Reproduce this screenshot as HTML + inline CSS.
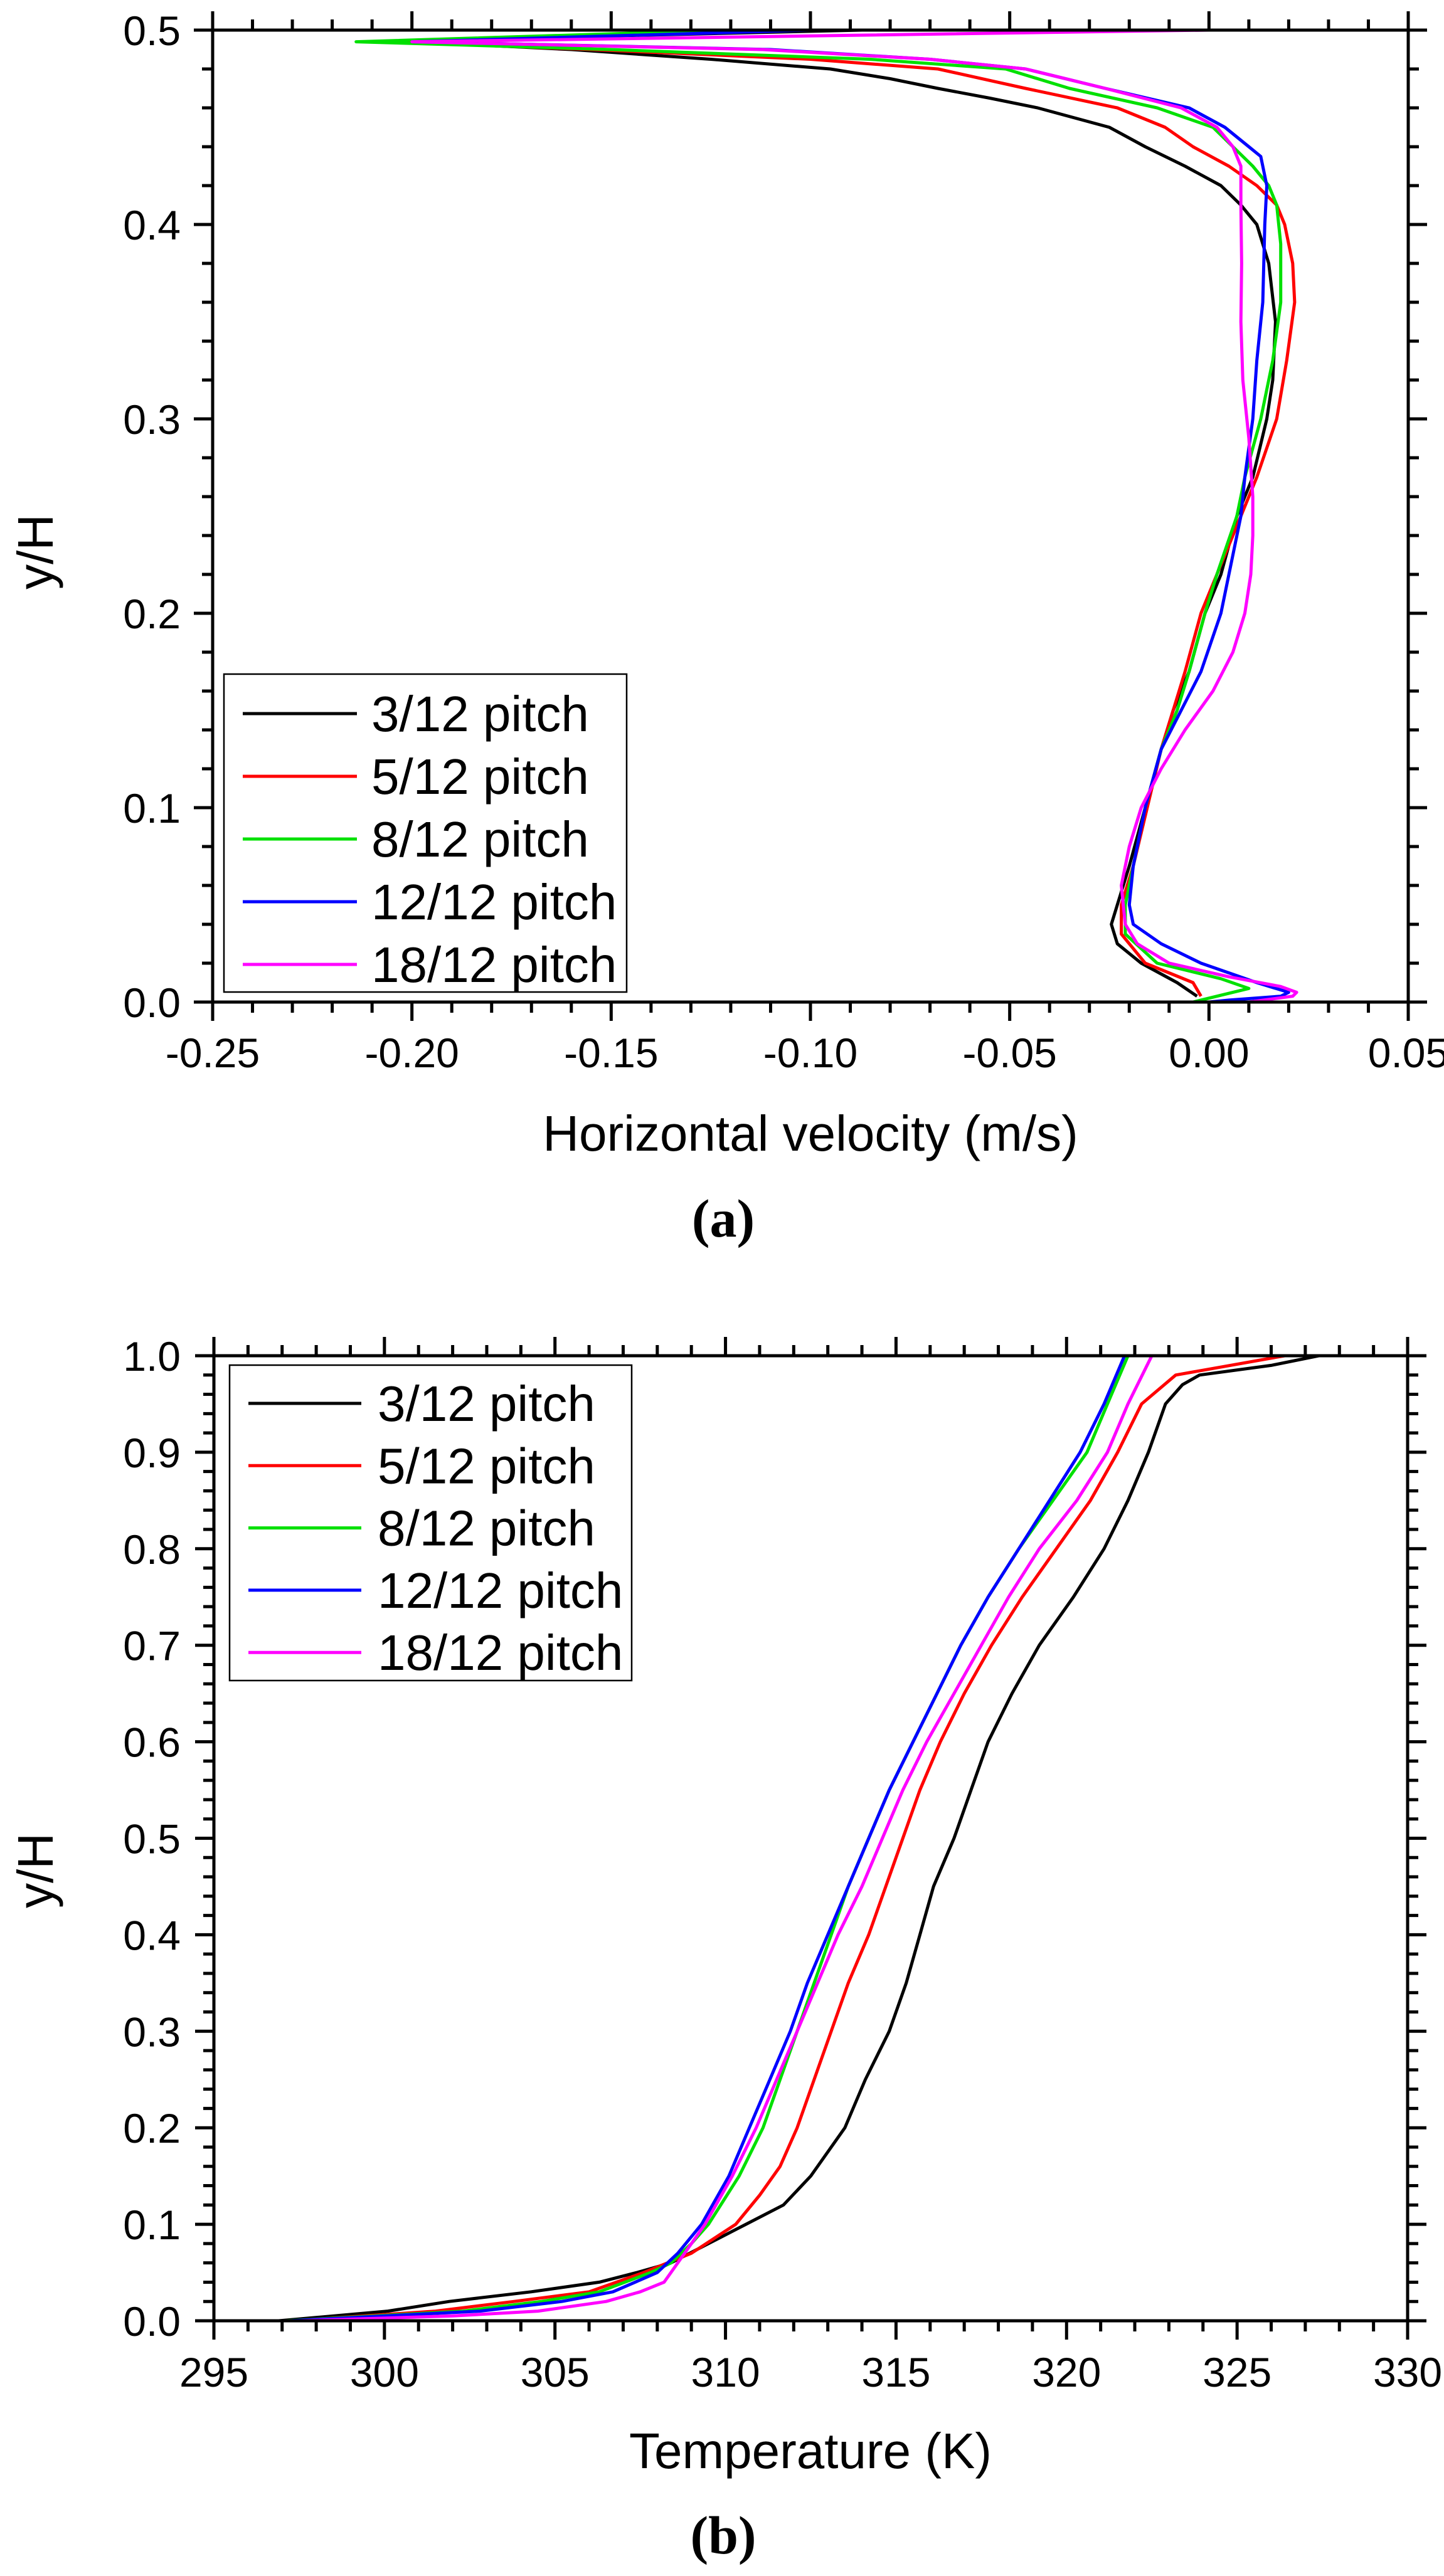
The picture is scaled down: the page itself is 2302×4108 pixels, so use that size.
<!DOCTYPE html>
<html><head><meta charset="utf-8"><style>
html,body{margin:0;padding:0;background:#fff}
svg{display:block}
text{font-family:"Liberation Sans",Arial,sans-serif;fill:#000}
</style></head><body>
<svg id="fig" width="2302" height="4108" viewBox="0 0 2302 4108" xmlns="http://www.w3.org/2000/svg">
<rect width="2302" height="4108" fill="#fff"/>
<g id="chartA"></g>
<g id="chartB"></g>
</svg>
<script>
// ---------- Data: chart (a) velocity profiles: [y/H] and [velocity m/s] ----------
const seriesNames = ["3/12 pitch","5/12 pitch","8/12 pitch","12/12 pitch","18/12 pitch"];
const seriesColors = ["#000000","#ff0000","#00e000","#0000ff","#ff00ff"];

const velY_black = [0.5,0.497,0.494,0.49,0.485,0.48,0.475,0.47,0.465,0.46,0.45,0.44,0.43,0.42,0.41,0.40,0.38,0.35,0.32,0.30,0.27,0.25,0.22,0.20,0.17,0.15,0.13,0.10,0.07,0.05,0.04,0.03,0.02,0.01,0.003];
const velX_black = [-0.087,-0.15,-0.2,-0.16,-0.125,-0.095,-0.08,-0.068,-0.055,-0.043,-0.025,-0.016,-0.006,0.003,0.008,0.012,0.015,0.0167,0.016,0.0145,0.011,0.007,0.003,-0.001,-0.005,-0.009,-0.012,-0.016,-0.02,-0.023,-0.0245,-0.023,-0.017,-0.008,-0.003];

const velY_red = [0.5,0.494,0.49,0.485,0.48,0.47,0.46,0.45,0.44,0.43,0.42,0.41,0.40,0.38,0.36,0.33,0.30,0.27,0.25,0.22,0.20,0.17,0.15,0.13,0.10,0.07,0.05,0.035,0.02,0.01,0.003];
const velX_red = [-0.11,-0.205,-0.155,-0.1,-0.068,-0.046,-0.023,-0.011,-0.004,0.005,0.012,0.017,0.019,0.021,0.0215,0.0195,0.017,0.012,0.008,0.002,-0.002,-0.006,-0.009,-0.012,-0.0155,-0.019,-0.022,-0.022,-0.016,-0.004,-0.002];

const velY_green = [0.5,0.494,0.49,0.485,0.48,0.47,0.46,0.45,0.44,0.43,0.42,0.41,0.39,0.36,0.33,0.30,0.27,0.25,0.22,0.20,0.17,0.15,0.13,0.10,0.07,0.05,0.035,0.02,0.012,0.007,0.003,0.0];
const velX_green = [-0.12,-0.214,-0.15,-0.085,-0.051,-0.035,-0.013,0.001,0.006,0.011,0.015,0.017,0.018,0.018,0.016,0.013,0.009,0.007,0.002,-0.001,-0.005,-0.008,-0.012,-0.016,-0.019,-0.021,-0.021,-0.013,0.003,0.01,0.002,-0.004];

const velY_blue = [0.5,0.494,0.49,0.485,0.48,0.47,0.46,0.45,0.44,0.435,0.42,0.40,0.36,0.33,0.30,0.27,0.25,0.22,0.20,0.17,0.15,0.13,0.10,0.07,0.05,0.04,0.03,0.02,0.01,0.005,0.003,0.001,0.0];
const velX_blue = [-0.1,-0.2,-0.11,-0.07,-0.046,-0.026,-0.005,0.004,0.01,0.013,0.0145,0.014,0.0135,0.012,0.011,0.009,0.008,0.005,0.003,-0.002,-0.007,-0.012,-0.016,-0.019,-0.02,-0.019,-0.012,-0.002,0.012,0.02,0.018,0.005,0.0];

const velY_magenta = [0.5,0.497,0.494,0.49,0.485,0.48,0.47,0.46,0.45,0.44,0.43,0.41,0.38,0.35,0.32,0.29,0.26,0.24,0.22,0.20,0.18,0.16,0.14,0.12,0.10,0.08,0.06,0.04,0.03,0.02,0.013,0.008,0.005,0.003,0.0];
const velX_magenta = [0.0,-0.1,-0.2,-0.112,-0.07,-0.046,-0.026,-0.007,0.002,0.006,0.008,0.008,0.0082,0.008,0.0085,0.01,0.011,0.011,0.0105,0.009,0.006,0.001,-0.006,-0.012,-0.017,-0.02,-0.022,-0.021,-0.018,-0.01,0.005,0.018,0.022,0.021,0.01];

const velXTicks = [-0.25,-0.20,-0.15,-0.10,-0.05,0.00,0.05];
const velXTickLabels = ["-0.25","-0.20","-0.15","-0.10","-0.05","0.00","0.05"];
const velYTicks = [0.0,0.1,0.2,0.3,0.4,0.5];
const velYTickLabels = ["0.0","0.1","0.2","0.3","0.4","0.5"];

// ---------- Data: chart (b) temperature profiles: [y/H] and [temperature K] ----------
const tempY_black = [0,0.01,0.02,0.03,0.04,0.05,0.06,0.08,0.10,0.12,0.15,0.20,0.25,0.30,0.35,0.40,0.45,0.50,0.55,0.60,0.65,0.70,0.75,0.80,0.85,0.90,0.95,0.97,0.98,0.99,1.0];
const tempX_black = [296.9,300.1,301.9,304.3,306.3,307.4,308.4,309.5,310.6,311.7,312.5,313.5,314.1,314.8,315.3,315.7,316.1,316.7,317.2,317.7,318.4,319.2,320.2,321.1,321.8,322.4,322.9,323.4,323.9,326.0,327.4];

const tempY_red = [0,0.01,0.02,0.03,0.05,0.07,0.10,0.13,0.16,0.20,0.25,0.30,0.35,0.40,0.45,0.50,0.55,0.60,0.65,0.70,0.75,0.80,0.85,0.90,0.95,0.98,0.99,1.0];
const tempX_red = [297.3,301.5,303.8,306.0,307.6,309.0,310.3,311.0,311.6,312.1,312.6,313.1,313.6,314.2,314.7,315.2,315.7,316.3,317.0,317.8,318.7,319.7,320.7,321.5,322.2,323.2,324.8,326.4];

const tempY_green = [0,0.01,0.02,0.03,0.05,0.06,0.08,0.10,0.15,0.20,0.25,0.30,0.35,0.40,0.45,0.50,0.55,0.60,0.65,0.70,0.75,0.80,0.85,0.90,0.95,1.0];
const tempX_green = [297.1,302.3,304.6,306.3,307.8,308.4,309.0,309.5,310.4,311.1,311.6,312.1,312.6,313.1,313.6,314.2,314.8,315.5,316.2,316.9,317.7,318.6,319.6,320.6,321.2,321.8];

const tempY_blue = [0,0.01,0.02,0.03,0.05,0.07,0.10,0.15,0.20,0.25,0.30,0.35,0.40,0.45,0.50,0.55,0.60,0.65,0.70,0.75,0.80,0.85,0.90,0.95,1.0];
const tempX_blue = [297.2,302.8,305.2,306.7,308.0,308.6,309.3,310.1,310.7,311.3,311.9,312.4,313.0,313.6,314.2,314.8,315.5,316.2,316.9,317.7,318.6,319.5,320.4,321.1,321.7];

const tempY_magenta = [0,0.005,0.01,0.02,0.03,0.04,0.06,0.08,0.10,0.15,0.20,0.25,0.30,0.35,0.40,0.45,0.50,0.55,0.60,0.65,0.70,0.75,0.80,0.85,0.90,0.95,1.0];
const tempX_magenta = [297.5,302.0,304.5,306.5,307.5,308.2,308.6,309.0,309.4,310.2,310.9,311.5,312.1,312.7,313.3,314.0,314.6,315.2,315.9,316.7,317.5,318.3,319.2,320.3,321.2,321.8,322.5];

const tempXTicks = [295,300,305,310,315,320,325,330];
const tempXTickLabels = ["295","300","305","310","315","320","325","330"];
const tempYTicks = [0.0,0.1,0.2,0.3,0.4,0.5,0.6,0.7,0.8,0.9,1.0];
const tempYTickLabels = ["0.0","0.1","0.2","0.3","0.4","0.5","0.6","0.7","0.8","0.9","1.0"];

const NS = "http://www.w3.org/2000/svg";
function mk(tag, attrs, parent){
  const e = document.createElementNS(NS, tag);
  for (const k in attrs) e.setAttribute(k, attrs[k]);
  parent.appendChild(e);
  return e;
}

function drawChart(cfg){
  const g = document.getElementById(cfg.id);
  const sx = v => cfg.L + (v - cfg.xmin) / (cfg.xmax - cfg.xmin) * (cfg.R - cfg.L);
  const sy = v => cfg.B - (v - cfg.ymin) / (cfg.ymax - cfg.ymin) * (cfg.B - cfg.T);

  // clip
  const cp = mk("clipPath", {id: cfg.id + "-clip"}, g);
  mk("rect", {x: cfg.L, y: cfg.T - 4, width: cfg.R - cfg.L, height: cfg.B - cfg.T + 8}, cp);

  // series
  const sg = mk("g", {"clip-path": "url(#" + cfg.id + "-clip)"}, g);
  
  
  cfg.series.forEach((s, i) => {
    let d = "";
    for (let k = 0; k < s.x.length; k++) d += (k ? "L" : "M") + sx(s.x[k]).toFixed(1) + "," + sy(s.y[k]).toFixed(1);
    const p = mk("path", {d: d, fill: "none", stroke: seriesColors[i], "stroke-width": 5, "stroke-linejoin": "round"}, sg);
    
    
  });

  // axes frame
  const ax = mk("g", {stroke: "#000", "stroke-width": 5, fill: "none"}, g);
  
  
  mk("rect", {x: cfg.L, y: cfg.T, width: cfg.R - cfg.L, height: cfg.B - cfg.T}, ax);

  // x ticks
  const nMinX = Math.round((cfg.xmax - cfg.xmin) / cfg.xminor);
  for (let k = 0; k <= nMinX; k++) {
    const v = cfg.xmin + k * cfg.xminor;
    const major = cfg.xTicks.some(t => Math.abs(t - v) < cfg.xminor / 10);
    const len = major ? 30 : 17;
    const x = sx(v);
    mk("line", {x1: x, y1: cfg.B, x2: x, y2: cfg.B + len}, ax);
    mk("line", {x1: x, y1: cfg.T, x2: x, y2: cfg.T - len}, ax);
  }
  const nMinY = Math.round((cfg.ymax - cfg.ymin) / cfg.yminor);
  for (let k = 0; k <= nMinY; k++) {
    const v = cfg.ymin + k * cfg.yminor;
    const major = cfg.yTicks.some(t => Math.abs(t - v) < cfg.yminor / 10);
    const len = major ? 30 : 17;
    const y = sy(v);
    mk("line", {x1: cfg.L, y1: y, x2: cfg.L - len, y2: y}, ax);
    mk("line", {x1: cfg.R, y1: y, x2: cfg.R + len, y2: y}, ax);
  }

  // tick labels
  cfg.xTicks.forEach((t, i) => {
    const tx = mk("text", {x: sx(t), y: cfg.xLabelBase, "text-anchor": "middle", "font-size": 66}, g);
    tx.textContent = cfg.xTickLabels[i];
    
    
  });
  cfg.yTicks.forEach((t, i) => {
    const tx = mk("text", {x: 288, y: sy(t) + 24, "text-anchor": "end", "font-size": 66}, g);
    tx.textContent = cfg.yTickLabels[i];
    
    
  });

  // axis titles
  const xt = mk("text", {x: 1292, y: cfg.xTitleBase, "text-anchor": "middle", "font-size": 80}, g);
  xt.textContent = cfg.xTitle;
  
  
  const yt = mk("text", {x: 0, y: 0, "text-anchor": "middle", "font-size": 80, transform: "translate(84," + cfg.yTitleC + ") rotate(-90)"}, g);
  yt.textContent = "y/H";
  
  

  // legend
  const lg = mk("g", {}, g);
  
  
  mk("rect", {x: cfg.leg.x, y: cfg.leg.y, width: cfg.leg.w, height: cfg.leg.h, fill: "#fff", stroke: "#000", "stroke-width": 2.5}, lg);
  seriesNames.forEach((n, i) => {
    const yy = cfg.leg.y0 + i * cfg.leg.dy;
    const e = mk("g", {}, lg);
    
    
    mk("line", {x1: cfg.leg.lx1, x2: cfg.leg.lx2, y1: yy, y2: yy, stroke: seriesColors[i], "stroke-width": 5}, e);
    const t = mk("text", {x: cfg.leg.tx, y: yy + 28, "font-size": 80}, e);
    t.textContent = n;
  });

  // panel label
  const pl = mk("text", {x: 1153, y: cfg.panelBase, "text-anchor": "middle", "font-size": 86, "font-weight": "bold", style: 'font-family:"Liberation Serif","Times New Roman",serif'}, g);
  pl.textContent = cfg.panel;
  
  
}

drawChart({
  id: "chartA", L: 339, R: 2245, T: 48, B: 1598,
  xmin: -0.25, xmax: 0.05, ymin: 0, ymax: 0.5, xminor: 0.01, yminor: 0.02,
  xTicks: velXTicks, xTickLabels: velXTickLabels, yTicks: velYTicks, yTickLabels: velYTickLabels,
  series: [
    {x: velX_black, y: velY_black}, {x: velX_red, y: velY_red}, {x: velX_green, y: velY_green},
    {x: velX_blue, y: velY_blue}, {x: velX_magenta, y: velY_magenta}
  ],
  xLabelBase: 1702, xTitleBase: 1835, xTitle: "Horizontal velocity (m/s)", yTitleC: 880,
  leg: {x: 357, y: 1075, w: 642, h: 507, y0: 1138, dy: 100, lx1: 387, lx2: 569, tx: 592},
  panelBase: 1972, panel: "(a)"
});

drawChart({
  id: "chartB", L: 341, R: 2244, T: 2162, B: 3701,
  xmin: 295, xmax: 330, ymin: 0, ymax: 1.0, xminor: 1, yminor: 0.02,
  xTicks: tempXTicks, xTickLabels: tempXTickLabels, yTicks: tempYTicks, yTickLabels: tempYTickLabels,
  series: [
    {x: tempX_black, y: tempY_black}, {x: tempX_red, y: tempY_red}, {x: tempX_green, y: tempY_green},
    {x: tempX_blue, y: tempY_blue}, {x: tempX_magenta, y: tempY_magenta}
  ],
  xLabelBase: 3806, xTitleBase: 3936, xTitle: "Temperature (K)", yTitleC: 2983,
  leg: {x: 366, y: 2177, w: 641, h: 503, y0: 2238, dy: 99.3, lx1: 396, lx2: 576, tx: 602},
  panelBase: 4072, panel: "(b)"
});
</script>
</body></html>
